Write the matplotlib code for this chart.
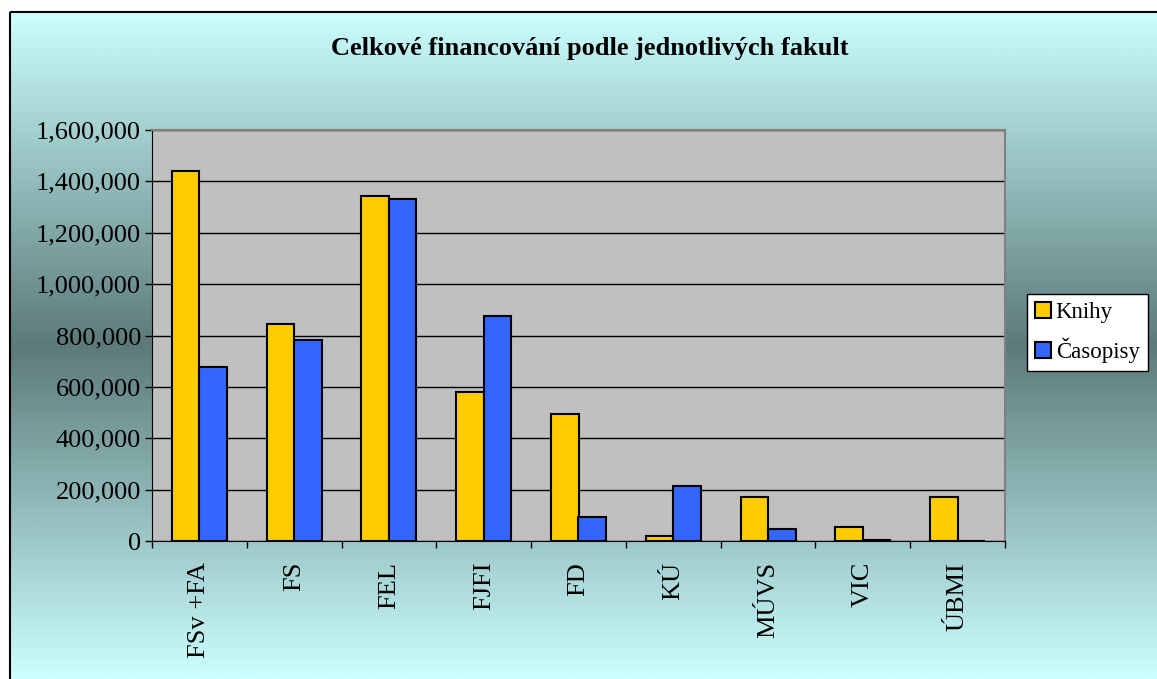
import numpy as np
import matplotlib
matplotlib.use("Agg")
import matplotlib.pyplot as plt
from matplotlib.patches import Rectangle
from matplotlib.ticker import FuncFormatter

categories = ["FSv +FA", "FS", "FEL", "FJFI", "FD", "KÚ", "MÚVS", "VIC", "ÚBMI"]
knihy = [1440000, 845000, 1343000, 580000, 494000, 19000, 171000, 55000, 171000]
casopisy = [677000, 782000, 1331000, 876000, 93000, 214000, 47000, 3000, 0]
series_names = ["Knihy", "Časopisy"]

plt.rcParams['font.family'] = ['Liberation Serif', 'DejaVu Serif']

W, H = 1157, 679
fig = plt.figure(figsize=(W / 100, H / 100), dpi=100)
fig.patch.set_facecolor("white")

# background gradient
bg = fig.add_axes([0, 0, 1, 1], zorder=-10)
bg.set_xlim(0, W)
bg.set_ylim(H, 0)
bg.axis("off")
light = np.array([0xCC, 0xFF, 0xFF]) / 255
dark = np.array([0x5C, 0x7A, 0x7A]) / 255
top, bot = 11, 679
mid = (top + bot) / 2
ys = np.linspace(top, bot, 400)
t = 1 - np.abs(ys - mid) / (mid - top)
grad = light[None, :] * (1 - t[:, None]) + dark[None, :] * t[:, None]
img = np.repeat(grad[:, None, :], 2, axis=1)
bg.imshow(img, extent=[9, W + 5, bot, top], aspect="auto", interpolation="bilinear")
bg.add_patch(Rectangle((9.5, 11.5), W, H, fill=False, edgecolor="black", linewidth=1.5))
bg.text(590, 48, "Celkové financování podle jednotlivých fakult", ha="center", va="center",
        fontsize=19, fontweight="bold", color="black")

ax = fig.add_axes([152 / W, 1 - 541 / H, (1005 - 152) / W, (541 - 130) / H])
ax.set_facecolor("#C0C0C0")
x = np.arange(len(categories))
bw = 0.29
b1 = ax.bar(x - bw / 2, knihy, bw, color="#FFCC00", edgecolor="black", linewidth=1.5,
            label=series_names[0], zorder=3)
b2 = ax.bar(x + bw / 2, casopisy, bw, color="#3366FF", edgecolor="black", linewidth=1.5,
            label=series_names[1], zorder=3)
ax.set_xlim(-0.5, len(categories) - 0.5)
ax.set_ylim(0, 1600000)
ax.set_yticks(np.arange(0, 1600001, 200000))
ax.yaxis.set_major_formatter(FuncFormatter(lambda v, p: f"{int(v):,}"))
ax.grid(axis="y", color="black", linewidth=1.0, zorder=1)
ax.set_xticks(x)
ax.set_xticklabels(categories, rotation=90, fontsize=19)
ax.set_xticks(np.arange(-0.5, len(categories)), minor=True)
ax.tick_params(axis="x", which="major", length=0, pad=15)
ax.tick_params(axis="x", which="minor", length=5, width=1, color="black", direction="out")
ax.tick_params(axis="y", length=5, width=1, color="black", labelsize=19, pad=3)
for s in ["top", "right"]:
    ax.spines[s].set_color("#808080")
    ax.spines[s].set_linewidth(1.5)
ax.spines["left"].set_color("black")
ax.spines["bottom"].set_color("black")

leg = fig.legend(handles=[b1, b2], labels=series_names, loc="upper left",
                 bbox_to_anchor=(1027 / W, 1 - 294 / H), fontsize=16.5, frameon=True,
                 fancybox=False, edgecolor="black", framealpha=1, handlelength=0.7,
                 handleheight=0.7, handletextpad=0.2, borderpad=0.35, labelspacing=0.65,
                 borderaxespad=0)
leg.get_frame().set_linewidth(1.0)

fig.savefig("out.png", dpi=100)
